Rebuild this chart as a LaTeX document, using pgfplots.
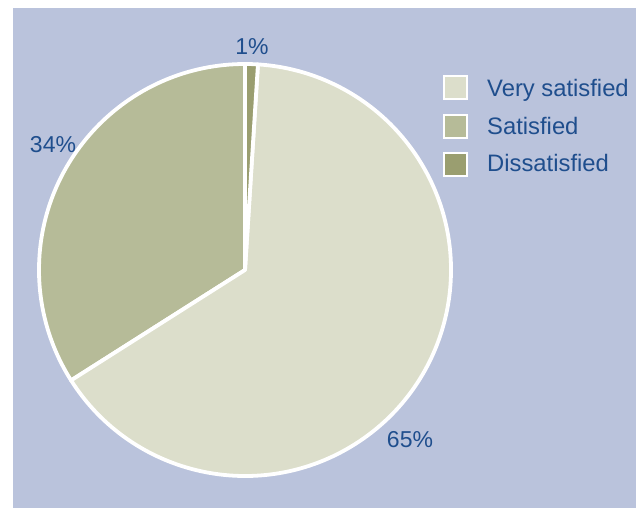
\documentclass[border=0pt]{standalone}
\usepackage{pgfplots}
\usepackage{pgfplotstable}
\pgfplotsset{compat=1.18}
\usepackage{fontspec}
\setmainfont{Liberation Sans}
\definecolor{bgblue}{HTML}{BAC3DC}
\definecolor{vsat}{HTML}{DCDECB}
\definecolor{sat}{HTML}{B6BB98}
\definecolor{dis}{HTML}{9A9E70}
\definecolor{txt}{HTML}{1F4E8D}

\pgfplotstableread[col sep=comma]{
name,value,color,legy
Satisfied,34,sat,381.5
Very satisfied,65,vsat,420
Dissatisfied,1,dis,343.5
}\piedata

\begin{document}
\begin{tikzpicture}
\begin{axis}[hide axis, x=1pt, y=1pt, xmin=0, xmax=643, ymin=0, ymax=508,
  scale only axis, clip=false, disabledatascaling]
\fill[white] (axis cs:0,0) rectangle (axis cs:643,508);
\fill[bgblue] (axis cs:13,0) rectangle (axis cs:636,500);
\pgfplotstablegetrowsof{\piedata}
\pgfmathtruncatemacro{\N}{\pgfplotsretval-1}
\gdef\cumangle{90}
\pgfplotsforeachungrouped \i in {0,...,\N}{%
  \pgfplotstablegetelem{\i}{value}\of{\piedata}\let\val\pgfplotsretval
  \pgfplotstablegetelem{\i}{color}\of{\piedata}\let\col\pgfplotsretval
  \pgfplotstablegetelem{\i}{legy}\of{\piedata}\let\ly\pgfplotsretval
  \pgfmathsetmacro{\endangle}{\cumangle+3.6*\val}%
  \edef\temp{\noexpand\filldraw[fill=\col, draw=white, line width=3.8pt, line join=round]
    (axis cs:245,238) -- ++(\cumangle:206pt) arc[start angle=\cumangle, end angle=\endangle, radius=206pt] -- cycle;
    \noexpand\filldraw[fill=\col, draw=white, line width=2pt] (axis cs:443.5,\ly-11.5) rectangle (axis cs:466.5,\ly+11.5);}%
  \temp
  \global\let\cumangle\endangle
}
\begin{scope}[every node/.style={text=txt, font=\fontsize{23}{27}\selectfont, inner sep=0pt}]
\node[anchor=base] at (axis cs:252,453) {1\%};
\node[anchor=base] at (axis cs:53,355) {34\%};
\node[anchor=base] at (axis cs:410,60) {65\%};
\end{scope}
\begin{scope}[every node/.style={text=txt, font=\fontsize{23.8}{27}\selectfont, inner sep=0pt}]
\node[anchor=base west] at (axis cs:487,411.5) {Very satisfied};
\node[anchor=base west] at (axis cs:487,373.5) {Satisfied};
\node[anchor=base west] at (axis cs:487,336) {Dissatisfied};
\end{scope}
\end{axis}
\end{tikzpicture}
\end{document}
